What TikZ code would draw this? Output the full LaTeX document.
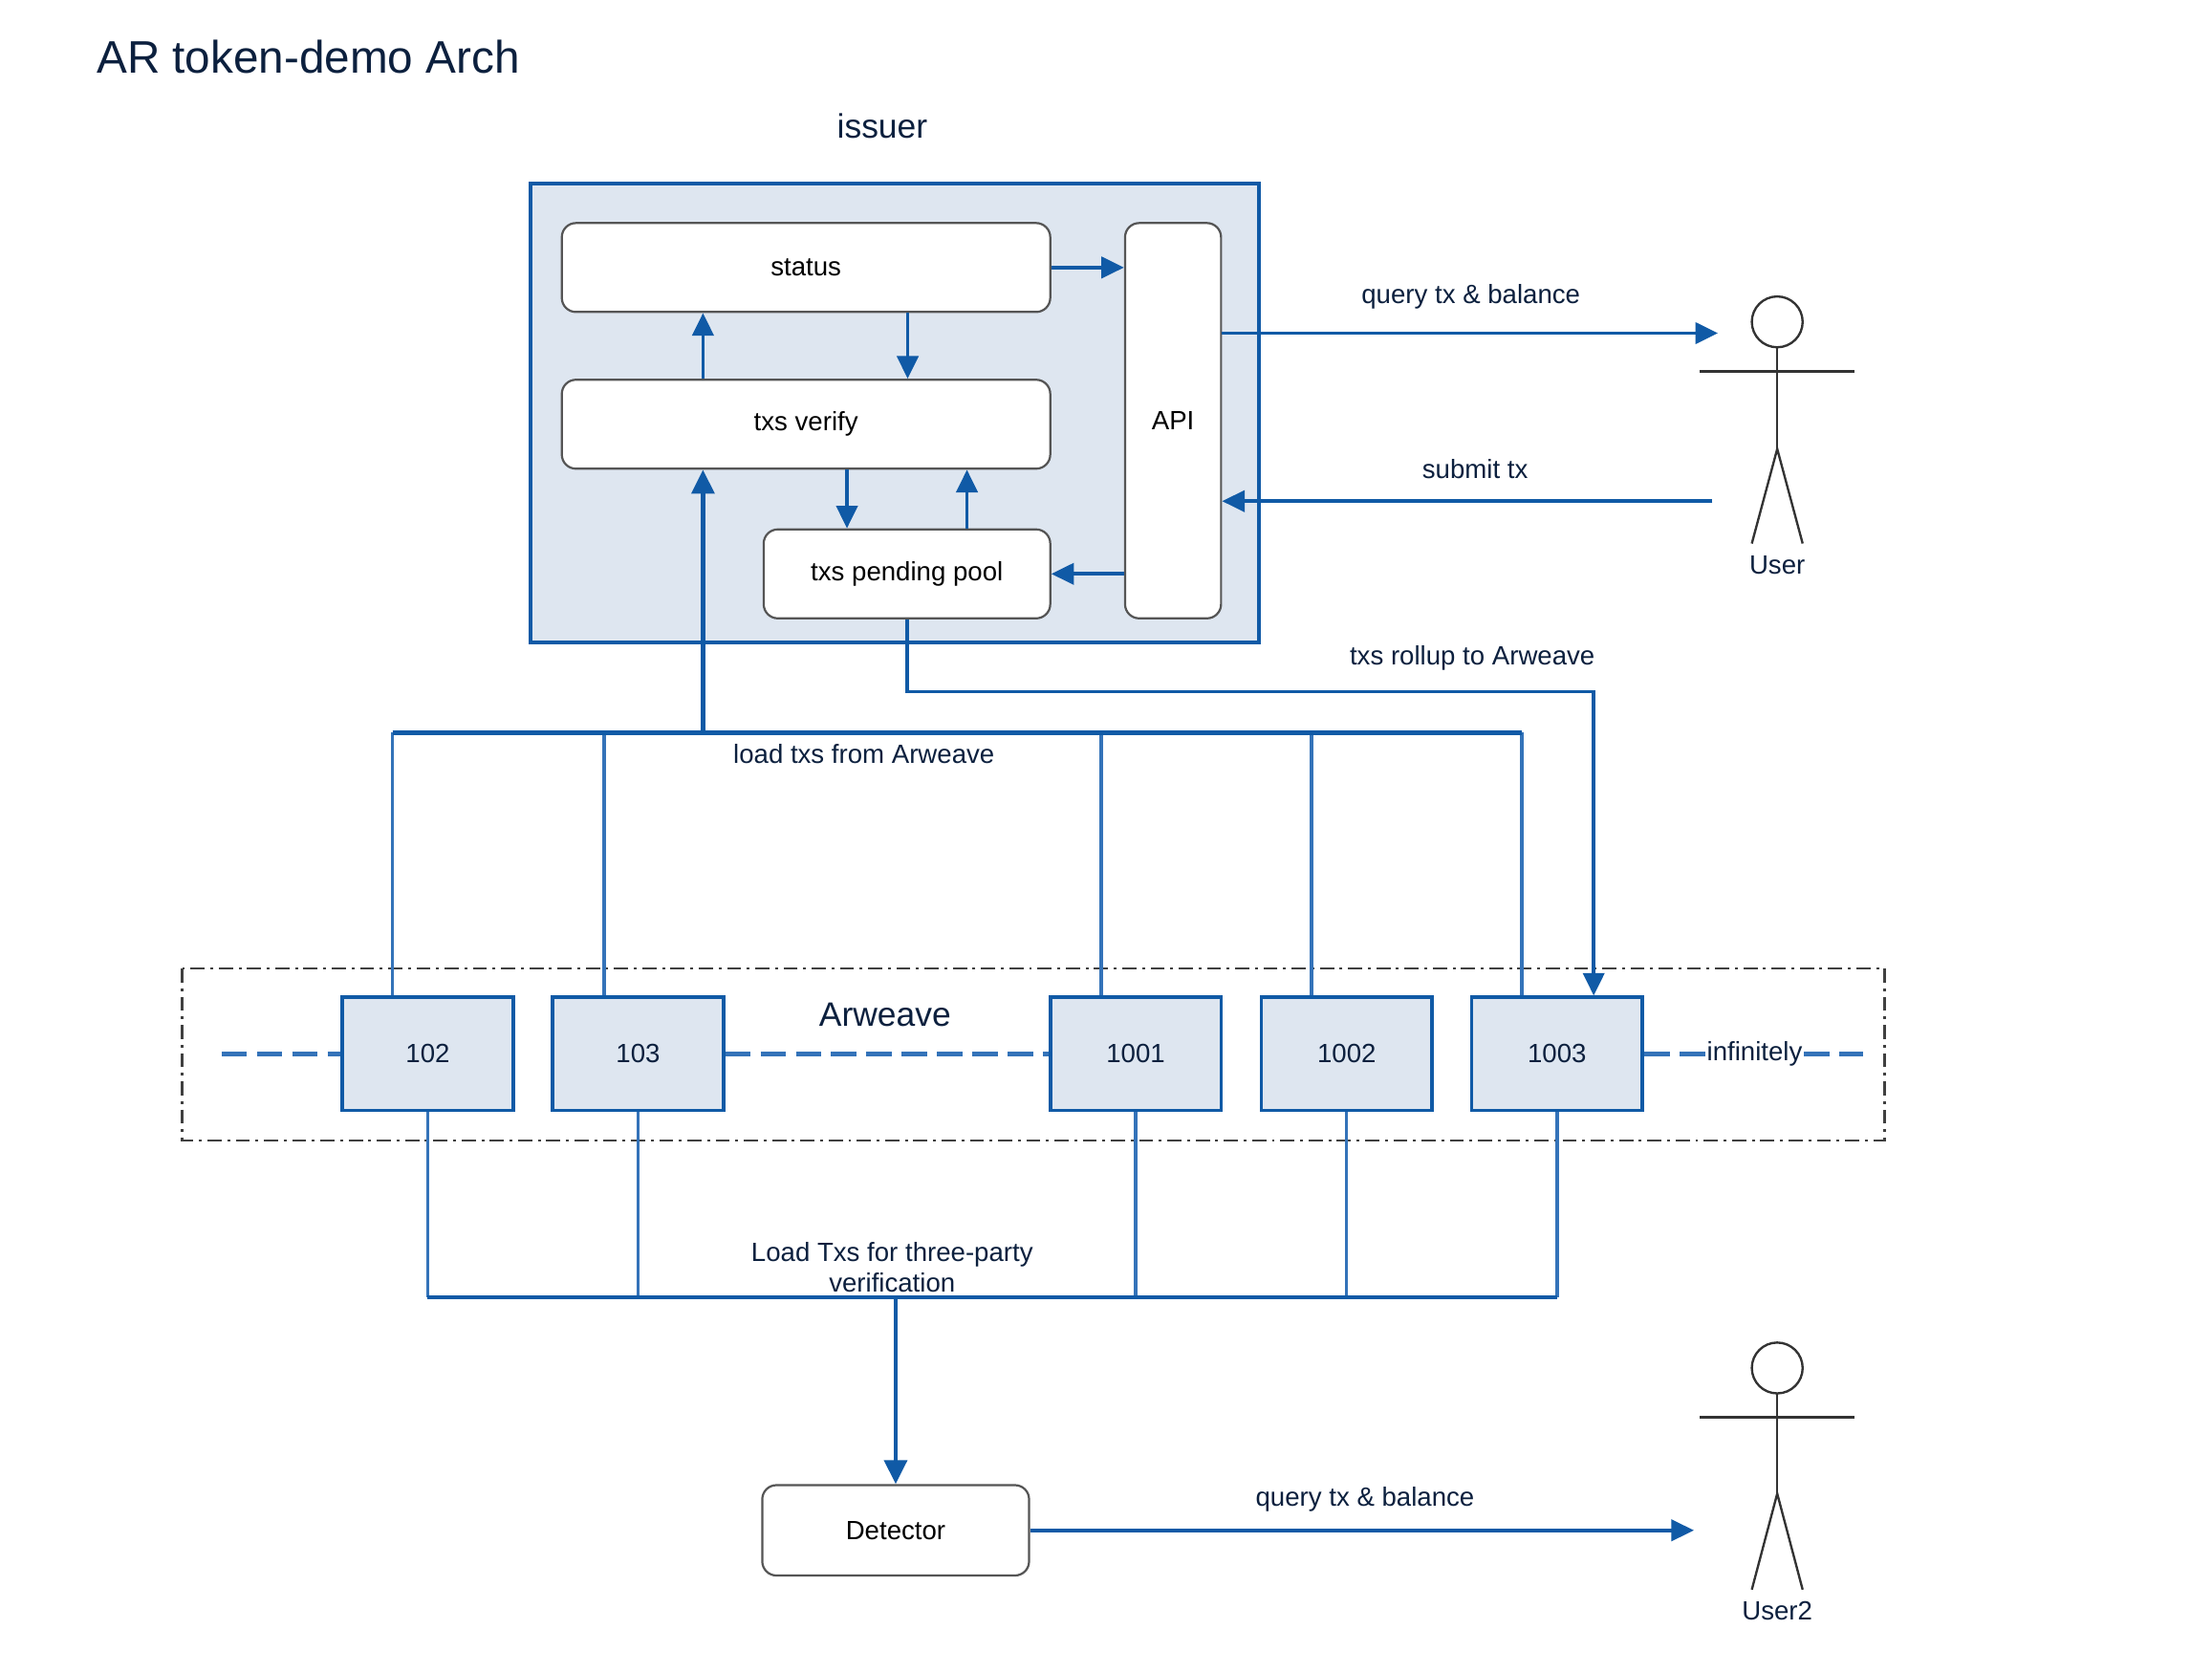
\documentclass[tikz,border=0pt]{standalone}
\usepackage{fontspec}
\setmainfont{Liberation Sans}
\usetikzlibrary{arrows.meta}
\definecolor{arblue}{RGB}{16,90,166}
\definecolor{lnblue}{RGB}{52,115,185}
\definecolor{boxfill}{RGB}{222,230,240}
\definecolor{navy}{RGB}{12,32,62}
\definecolor{edgegray}{RGB}{85,85,85}
\tikzset{
  txt/.style={font=\fontsize{18.7}{21.5}\selectfont, text=navy},
  rbox/.style={draw=edgegray, line width=1.5pt, fill=white, rounded corners=10pt, font=\fontsize{18.7}{21.5}\selectfont, text=black, inner sep=0pt},
  blk/.style={draw=arblue, line width=2.5pt, fill=boxfill, minimum width=121pt, minimum height=80pt, inner sep=0pt, font=\fontsize{18.7}{21.5}\selectfont, text=navy},
  arr/.style={draw=arblue, line width=2.5pt, -{Triangle[length=16pt,width=15pt]}},
  arrthick/.style={draw=arblue, line width=3.2pt, -{Triangle[length=17pt,width=16pt]}},
  lnk/.style={draw=lnblue, line width=2.3pt},
  lnkb/.style={draw=arblue, line width=3pt},
  dsh/.style={draw=lnblue, line width=3pt, dash pattern=on 18pt off 7pt},
  actor/.style={draw=black!80, line width=1.6pt},
}
\begin{document}
\begin{tikzpicture}[x=1pt, y=-1pt]
\useasboundingbox (0,0) rectangle (1567,1185);

% title and group labels
\node[font=\fontsize{32.3}{36}\selectfont, text=navy, anchor=west] (title) at (65,40) {AR token-demo Arch};
\node[font=\fontsize{24}{28}\selectfont, text=navy] (issuerlbl) at (625,89) {issuer};

% issuer container
\node[draw=arblue, line width=2.5pt, fill=boxfill, minimum width=516pt, minimum height=325pt, inner sep=0pt] (issuer) at (634,292.5) {};

% inner boxes
\node[rbox, minimum width=346pt, minimum height=63pt] (status) at (571,189.5) {status};
\node[rbox, minimum width=346pt, minimum height=63pt] (verify) at (571,300.5) {txs verify};
\node[rbox, minimum width=203pt, minimum height=63pt] (pool) at (642.5,406.5) {txs pending pool};
\node[rbox, minimum width=68pt, minimum height=280pt] (API) at (831,298) {API};

% helper x positions
\coordinate (cA) at (498,0);
\coordinate (cB) at (643,0);
\coordinate (cC) at (600,0);
\coordinate (cD) at (685,0);

% inner arrows
\draw[arr] (status.east) -- (status.east -| API.west);
\draw[arr] (verify.north -| cA) -- (status.south -| cA);
\draw[arr] (status.south -| cB) -- (verify.north -| cB);
\draw[arr] (verify.south -| cC) -- (pool.north -| cC);
\draw[arr] (pool.north -| cD) -- (verify.south -| cD);
\draw[arr] (API.west |- pool.east) -- (pool.east);

% User actor
\coordinate (uq) at (1217,236);
\coordinate (us) at (1213,355);
\draw[actor] (1259,228) circle (18pt);
\draw[actor] (1259,246) -- (1259,318);
\draw[actor] (1204,263) -- (1314,263);
\draw[actor] (1241,385) -- (1259,318) -- (1277,385);
\node[txt] (user) at (1259,400) {User};

\draw[arr] (API.east |- uq) -- (uq);
\node[txt] (lq) at (1042,210) {query tx \& balance};
\draw[arr] (us) -- (API.east |- us);
\node[txt] (ls) at (1045,332) {submit tx};

% Arweave group
\draw[draw=black!75, line width=1.5pt, dash pattern=on 10pt off 4pt on 2pt off 4pt] (129,686) rectangle (1335,808);
\node[font=\fontsize{24}{28}\selectfont, text=navy] (arlbl) at (627,719) {Arweave};

\node[blk] (b102) at (303,746.5) {102};
\node[blk] (b103) at (452,746.5) {103};
\node[blk] (b1001) at (804.5,746.5) {1001};
\node[blk] (b1002) at (954,746.5) {1002};
\node[blk] (b1003) at (1103,746.5) {1003};
\node[txt, inner sep=1pt] (inf) at (1243,746.5) {infinitely};

\coordinate (dl) at (157,746.5);
\coordinate (dr) at (1320,746.5);
\draw[dsh] (dl) -- (b102.west);
\draw[dsh] (b103.east) -- (b1001.west);
\draw[dsh] (b1003.east) -- (inf.west);
\draw[dsh] (inf.east) -- (dr);

% rollup
\coordinate (rr) at (1129,490);
\draw[arr] (pool.south) |- (rr) -- (b1003.north -| rr);
\node[txt] (lroll) at (1043,466) {txs rollup to Arweave};

% load txs from Arweave
\coordinate (t102) at (278,519);
\coordinate (t103) at (428,519);
\coordinate (t1001) at (780,519);
\coordinate (t1002) at (929,519);
\coordinate (t1003) at (1078,519);
\draw[lnk] (b102.north -| t102) -- (t102);
\draw[lnk] (b103.north -| t103) -- (t103);
\draw[lnk] (b1001.north -| t1001) -- (t1001);
\draw[lnk] (b1002.north -| t1002) -- (t1002);
\draw[lnk] (b1003.north -| t1003) -- (t1003);
\draw[lnkb] (t102) -- (t1003);
\draw[arrthick] (t102 -| cA) -- (verify.south -| cA);
\node[txt] (lload) at (612,534) {load txs from Arweave};

% load for detector
\coordinate (by) at (0,919);
\draw[lnk] (b102.south) -- (b102.south |- by);
\draw[lnk] (b103.south) -- (b103.south |- by);
\draw[lnk] (b1001.south) -- (b1001.south |- by);
\draw[lnk] (b1002.south) -- (b1002.south |- by);
\draw[lnk] (b1003.south) -- (b1003.south |- by);
\draw[lnkb] (b102.south |- by) -- (b1003.south |- by);
\node[rbox, minimum width=189pt, minimum height=64pt] (det) at (634.5,1084) {Detector};
\draw[arrthick] (det.north |- by) -- (det.north);
\node[txt, align=center] (ldet) at (632,897.5) {Load Txs for three-party\\verification};

% User2 actor
\coordinate (u2q) at (1200,1084);
\draw[actor] (1259,969) circle (18pt);
\draw[actor] (1259,987) -- (1259,1058);
\draw[actor] (1204,1004) -- (1314,1004);
\draw[actor] (1241,1126) -- (1259,1058) -- (1277,1126);
\node[txt] (user2) at (1259,1141) {User2};

\draw[arr] (det.east) -- (u2q);
\node[txt] (lq2) at (967,1062) {query tx \& balance};
\end{tikzpicture}
\end{document}
